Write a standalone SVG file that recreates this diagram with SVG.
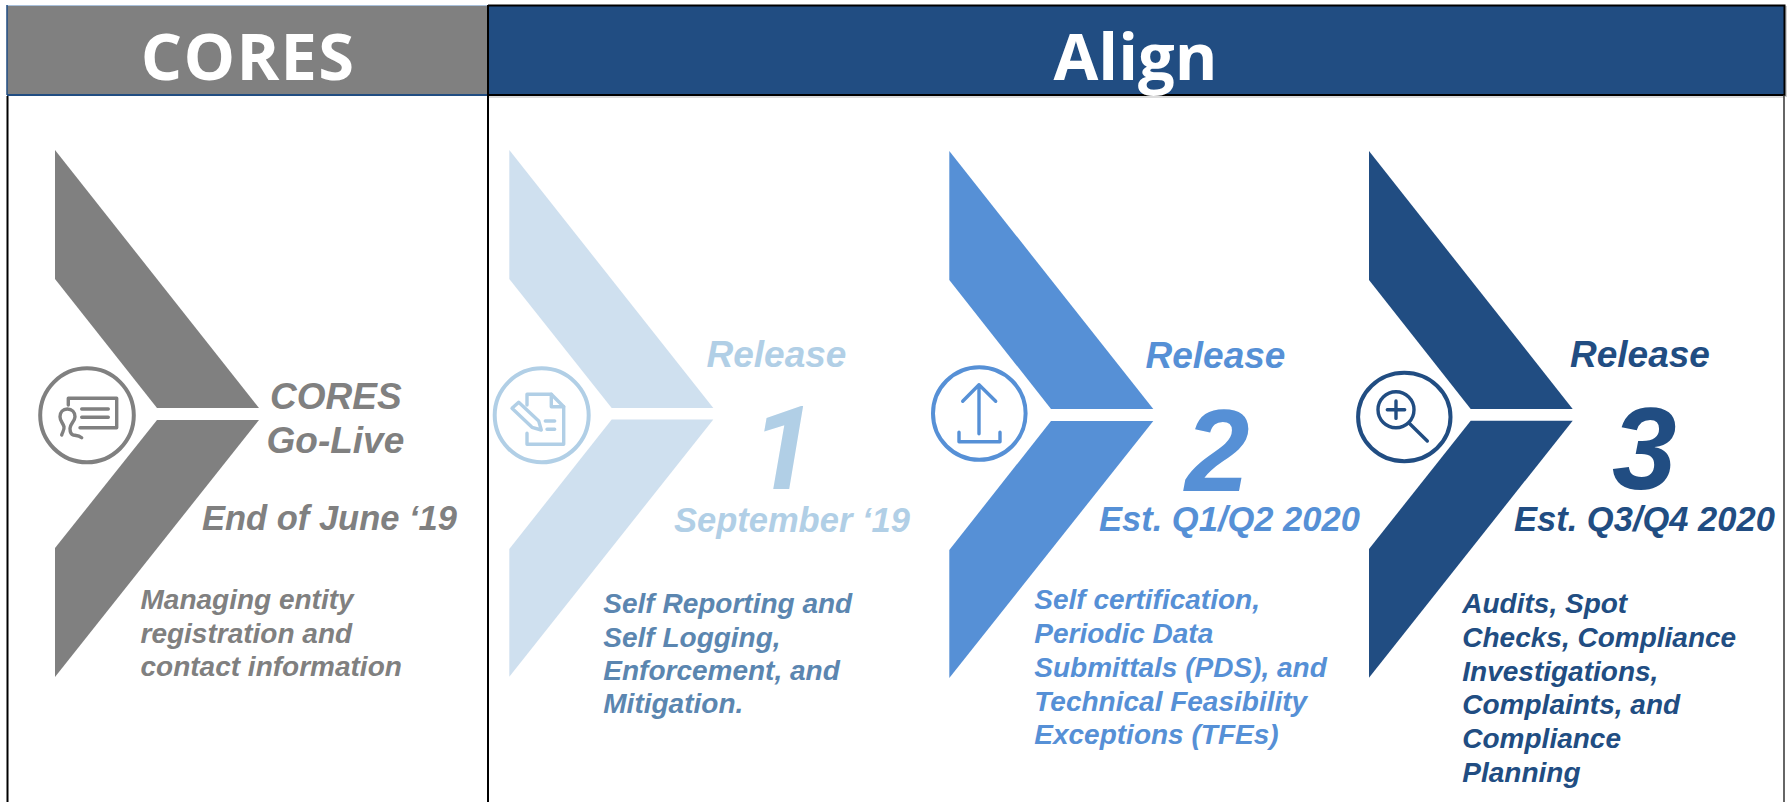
<svg xmlns="http://www.w3.org/2000/svg" width="1787" height="802" viewBox="0 0 1787 802">
<style>
text{font-family:"Liberation Sans",Arial,sans-serif;font-weight:700;font-style:italic}
.hd{font-family:"Open Sans","Noto Sans",sans-serif;font-weight:700;font-style:normal;font-size:65px;fill:#fff}
.ttl{font-size:37px}.date{font-size:34.5px}.num{font-size:116px}.desc{font-size:28px}
.ic{fill:none;stroke-width:3.4;stroke-linecap:round;stroke-linejoin:round}
.ring{fill:none;stroke-width:4}
.g{fill:#808080}.l{fill:#cfe0ef}.lt{fill:#b1cfe6}.ld{fill:#5b86b0}.m{fill:#5690d6}.d{fill:#214d82}
.sg{stroke:#808080}.sl{stroke:#b1cfe6}.sm{stroke:#5690d6}.sd{stroke:#214d82}
.bk{stroke:#000;fill:none}
</style>
<rect width="1787" height="802" fill="#fff"/>
<g id="table">
<rect x="7" y="6" width="481" height="89" fill="#808080"/>
<path d="M7 5.5H488" stroke="#a9c0da" stroke-width="1.2" fill="none"/>
<path d="M7 95H488" stroke="#214d82" stroke-width="2" fill="none"/>
<path d="M7 5V95" stroke="#214d82" stroke-width="1.5" fill="none"/>
<rect x="488" y="6" width="1296" height="89" fill="#214d82"/>
<path d="M488 97H1784" stroke="#d0d0d0" stroke-width="1.5" fill="none"/>
<path d="M1786 6V97" stroke="#c0c0c0" stroke-width="1.5" fill="none"/>
<path class="bk" stroke-width="2" d="M488 5.5H1784.5V95H488"/>
<path class="bk" stroke-width="2" d="M7.5 96V802M488 5V802"/>
<path d="M1784 95V802" stroke="#333" stroke-width="1.5" fill="none"/>
<text class="hd" x="248" y="79.5" text-anchor="middle" letter-spacing="1.2">CORES</text>
<text class="hd" x="1135.5" y="79.5" text-anchor="middle">Align</text>
</g>
<g id="node-cores">
<path class="g" d="M55 150L259 408H157L55 279Z"/>
<path class="g" d="M157 420H259L55 677V548Z"/>
<ellipse class="ring sg" cx="87" cy="415.3" rx="46.8" ry="47"/>
<g class="ic sg">
<path d="M68.3 405V398.3H116.7V427.7H80"/>
<path d="M81.7 409H108.3M81.7 417.3H108.3"/>
<path d="M61.7 435C62.5 432 64.5 430 64 426.7C63 423 60 421 60 416.7C60 412 63 409 67.3 409C72 409 75 412 75 416.7C75 421 70 424 70 428.3C70 432 71 434.5 73.3 435C76 435.5 79 435.5 81.7 437.7"/>
</g>
<text class="ttl g" x="270" y="408.5">CORES</text>
<text class="ttl g" x="266.5" y="452.5">Go-Live</text>
<text class="date g" x="202" y="530">End of June ‘19</text>
<text class="desc g" x="140.5" y="609">Managing entity</text>
<text class="desc g" x="140.5" y="643">registration and</text>
<text class="desc g" x="140.5" y="675.7">contact information</text>
</g>
<g id="node-release-1">
<path class="l" d="M509.3 150L713.3 408H611.7L509.3 279Z"/>
<path class="l" d="M611.7 419.5H713.3L509.3 676.7V549Z"/>
<circle class="ring sl" cx="541.7" cy="415.3" r="47"/>
<g class="ic sl">
<path d="M527 405V394.3H551.3L563.7 406.7V444.3H527V433.3"/>
<path d="M551.3 394.3V406.7H563.7"/>
<path d="M512 408.3L518.7 402.3L538.7 421L541.3 430L532 427.3Z"/>
<path d="M545.3 421H554.7M547 429.3H554.7"/>
</g>
<text class="ttl lt" x="706.5" y="366.7">Release</text>
<text class="num lt" x="751" y="489" style="font-family:Roboto,'Liberation Sans',sans-serif">1</text>
<text class="date lt" x="674" y="532.3">September ‘19</text>
<text class="desc ld" x="603.3" y="612.7">Self Reporting and</text>
<text class="desc ld" x="603.3" y="646.7">Self Logging,</text>
<text class="desc ld" x="603.3" y="679.5">Enforcement, and</text>
<text class="desc ld" x="603.3" y="713.3">Mitigation.</text>
</g>
<g id="node-release-2">
<path class="m" d="M949.3 151L1153.3 409H1051L949.3 280Z"/>
<path class="m" d="M1051 421H1153.3L949.3 678V550Z"/>
<circle class="ring sm" cx="979.3" cy="413.5" r="46.3"/>
<g class="ic sm">
<path d="M979 433.7V384.7M962.7 401.3L979 384.7L995.7 401.3"/>
<path d="M959 432.3V441.7H1000V432.3"/>
</g>
<text class="ttl m" x="1145.5" y="367.7">Release</text>
<text class="num m" x="1185" y="490.7">2</text>
<text class="date m" x="1099" y="530.7">Est. Q1/Q2 2020</text>
<text class="desc m" x="1034.3" y="609.3">Self certification,</text>
<text class="desc m" x="1034.3" y="643.3">Periodic Data</text>
<text class="desc m" x="1034.3" y="677.3">Submittals (PDS), and</text>
<text class="desc m" x="1034.3" y="711">Technical Feasibility</text>
<text class="desc m" x="1034.3" y="744.3">Exceptions (TFEs)</text>
</g>
<g id="node-release-3">
<path class="d" d="M1369 151L1572.7 409H1470.7L1369 280Z"/>
<path class="d" d="M1470.7 420.7H1572.7L1369 677.7V549Z"/>
<ellipse class="ring sd" cx="1404.3" cy="417" rx="46.2" ry="44.2"/>
<g class="ic sd">
<circle cx="1396" cy="409.7" r="18"/>
<path d="M1387.3 409.7H1404.7M1396 401V418.4"/>
<path d="M1409 423L1427.3 441"/>
</g>
<text class="ttl d" x="1570" y="366.7">Release</text>
<text class="num d" x="1612" y="489">3</text>
<text class="date d" x="1514" y="530.7">Est. Q3/Q4 2020</text>
<text class="desc d" x="1462.3" y="613.3">Audits, Spot</text>
<text class="desc d" x="1462.3" y="647.3">Checks, Compliance</text>
<text class="desc d" x="1462.3" y="680.7">Investigations,</text>
<text class="desc d" x="1462.3" y="714.3">Complaints, and</text>
<text class="desc d" x="1462.3" y="748.3">Compliance</text>
<text class="desc d" x="1462.3" y="781.7">Planning</text>
</g>
<g id="connectors"/>
</svg>
